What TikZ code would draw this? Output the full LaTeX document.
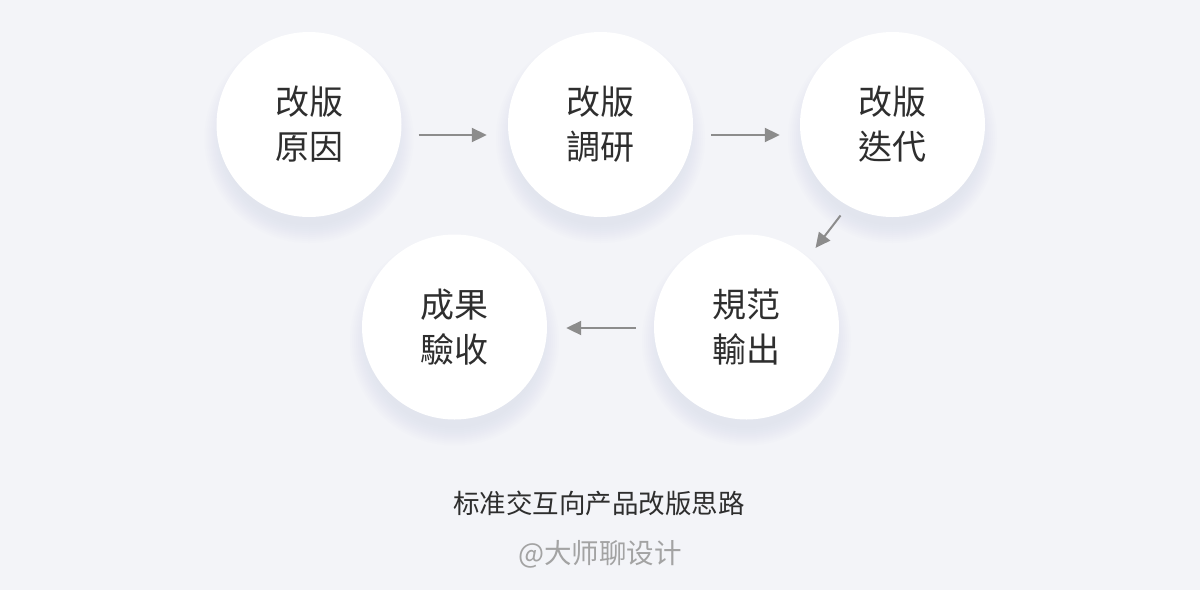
\documentclass[tikz,border=0pt]{standalone}
\usepackage{fontspec}
\usetikzlibrary{arrows.meta}
\newfontfamily\tcfont{Noto Sans CJK TC}
\newfontfamily\scfont{Noto Sans CJK SC}
\definecolor{bg}{HTML}{F3F4F8}
\definecolor{shadowc}{HTML}{D3D7E6}
\definecolor{txt}{HTML}{2E2E2E}
\definecolor{arrowc}{HTML}{8C8C8C}
\definecolor{subc}{HTML}{A3A3A3}
\tikzset{
  stage/.style={circle, fill=white, minimum size=185pt, inner sep=0pt,
    align=center, text=txt, font=\tcfont\fontsize{34pt}{45pt}\selectfont},
  flowarrow/.style={draw=arrowc, line width=2pt,
    -{Triangle[length=15pt,width=14pt]}},
}
\newcommand{\softshadow}[1]{%
  \foreach \k in {0,...,9}{%
    \fill[shadowc, opacity=0.05] ([yshift=-14pt]#1) circle ({92.5+12-2*\k});
  }%
}
\begin{document}
\begin{tikzpicture}[x=1pt,y=-1pt]
\fill[bg] (0,0) rectangle (1200,590);
\useasboundingbox (0,0) rectangle (1200,590);
\coordinate (p1) at (309,124.5);
\coordinate (p2) at (600.5,124.5);
\coordinate (p3) at (892.5,124.5);
\coordinate (p4) at (746.5,327);
\coordinate (p5) at (454.5,327);
\begin{scope}
\clip (0,0) rectangle (1200,590);
\softshadow{p1}
\softshadow{p2}
\softshadow{p3}
\softshadow{p4}
\softshadow{p5}
\end{scope}
\node[stage] (c1) at (p1) {改版\\原因};
\node[stage] (c2) at (p2) {改版\\調研};
\node[stage] (c3) at (p3) {改版\\迭代};
\node[stage] (c4) at (p4) {規范\\輸出};
\node[stage] (c5) at (p5) {成果\\驗收};
\draw[flowarrow] ([shift={(17,10.5)}]c1.east) -- ([shift={(-21,10.5)}]c2.west);
\draw[flowarrow] ([shift={(18,10.5)}]c2.east) -- ([shift={(-20,10.5)}]c3.west);
\draw[flowarrow] ([shift={(-52,91)}]c3.center) -- ([shift={(69,-79)}]c4.center);
\draw[flowarrow] ([shift={(-18,1)}]c4.west) -- ([shift={(19,1)}]c5.east);
\node[text=txt, font=\scfont\fontsize{26.5pt}{30pt}\selectfont] (title) at (599,503) {标准交互向产品改版思路};
\node[text=subc, font=\scfont\fontsize{27.5pt}{30pt}\selectfont] (credit) at (600,554) {@大师聊设计};
\end{tikzpicture}
\end{document}
